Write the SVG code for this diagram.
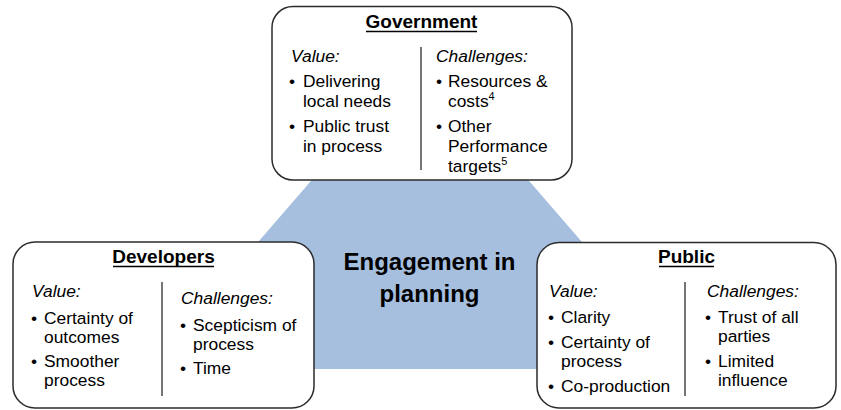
<svg xmlns="http://www.w3.org/2000/svg" width="841" height="410" viewBox="0 0 841 410">
<style>
text{font-family:"Liberation Sans",Arial,sans-serif;fill:#000}
.box{fill:#fff;stroke:#2b2b2b;stroke-width:1.5}
.title{font-size:19px;font-weight:bold;text-anchor:middle}
.ul{stroke:#000;stroke-width:1.6}
.hd{font-size:17.4px;font-style:italic}
.b{font-size:17.4px}
.sup{font-size:11px}
.div{stroke:#2b2b2b;stroke-width:1.3}
.hub{font-size:24px;font-weight:bold;text-anchor:middle}
</style>
<rect width="841" height="410" fill="#fff"/>
<g id="engagement">
<polygon points="420,55 148,369 692,369" fill="#A7BFDF"/>
<text class="hub" x="429.5" y="270">Engagement in</text>
<text class="hub" x="429.5" y="302">planning</text>
</g>
<g id="connectors"></g>
<g id="government">
<rect class="box" x="272" y="6.5" width="300" height="173.5" rx="21"/>
<text class="title" x="421.5" y="28">Government</text>
<line class="ul" x1="366" y1="31.5" x2="477" y2="31.5"/>
<line class="div" x1="421" y1="47" x2="421" y2="170"/>
<text class="hd" x="291" y="62">Value:</text>
<text class="b" x="289" y="87">•</text>
<text class="b" x="303" y="87">Delivering</text>
<text class="b" x="303" y="107">local needs</text>
<text class="b" x="289" y="132">•</text>
<text class="b" x="303" y="132">Public trust</text>
<text class="b" x="303" y="152">in process</text>
<text class="hd" x="436" y="62">Challenges:</text>
<text class="b" x="436" y="87">•</text>
<text class="b" x="448" y="87">Resources &amp;</text>
<text class="b" x="448" y="107">costs<tspan class="sup" dy="-7">4</tspan></text>
<text class="b" x="436" y="132">•</text>
<text class="b" x="448" y="132">Other</text>
<text class="b" x="448" y="152">Performance</text>
<text class="b" x="448" y="172">targets<tspan class="sup" dy="-7">5</tspan></text>
</g>
<g id="developers">
<rect class="box" x="13" y="242" width="301" height="166" rx="22"/>
<text class="title" x="163.5" y="263">Developers</text>
<line class="ul" x1="113" y1="266.5" x2="214" y2="266.5"/>
<line class="div" x1="162" y1="282" x2="162" y2="396"/>
<text class="hd" x="32" y="297">Value:</text>
<text class="b" x="31" y="324">•</text>
<text class="b" x="44" y="324">Certainty of</text>
<text class="b" x="44" y="343">outcomes</text>
<text class="b" x="31" y="367">•</text>
<text class="b" x="44" y="367">Smoother</text>
<text class="b" x="44" y="386">process</text>
<text class="hd" x="181" y="304">Challenges:</text>
<text class="b" x="180" y="331">•</text>
<text class="b" x="193" y="331">Scepticism of</text>
<text class="b" x="193" y="350">process</text>
<text class="b" x="180" y="374">•</text>
<text class="b" x="193" y="374">Time</text>
</g>
<g id="public">
<rect class="box" x="537" y="242.5" width="299" height="165.5" rx="22"/>
<text class="title" x="686.5" y="263">Public</text>
<line class="ul" x1="659" y1="266.5" x2="714" y2="266.5"/>
<line class="div" x1="685" y1="282" x2="685" y2="396"/>
<text class="hd" x="549" y="297">Value:</text>
<text class="b" x="548" y="323">•</text>
<text class="b" x="561" y="323">Clarity</text>
<text class="b" x="548" y="348">•</text>
<text class="b" x="561" y="348">Certainty of</text>
<text class="b" x="561" y="367">process</text>
<text class="b" x="548" y="392">•</text>
<text class="b" x="561" y="392">Co-production</text>
<text class="hd" x="707" y="297">Challenges:</text>
<text class="b" x="705" y="323">•</text>
<text class="b" x="718" y="323">Trust of all</text>
<text class="b" x="718" y="342">parties</text>
<text class="b" x="705" y="367">•</text>
<text class="b" x="718" y="367">Limited</text>
<text class="b" x="718" y="386">influence</text>
</g>
</svg>
